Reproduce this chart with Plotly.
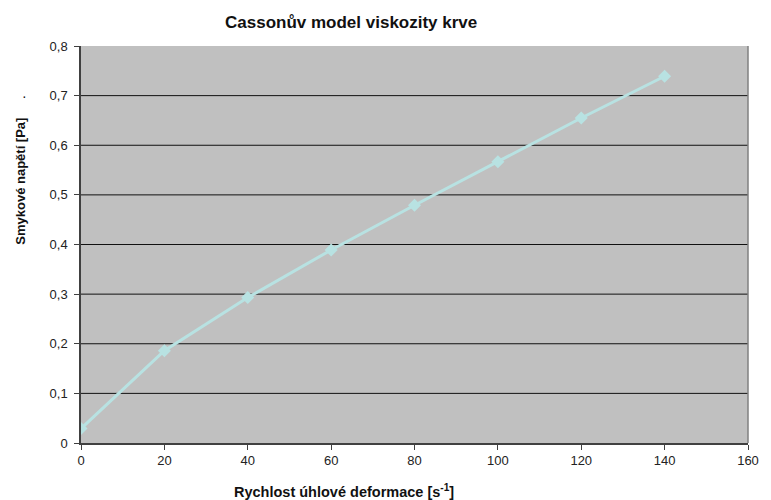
import plotly.graph_objects as go

shear_rate = [0, 20, 40, 60, 80, 100, 120, 140]
shear_stress = [0.029, 0.186, 0.293, 0.389, 0.479, 0.567, 0.655, 0.739]
y_ticks = [0, 0.1, 0.2, 0.3, 0.4, 0.5, 0.6, 0.7, 0.8]
x_ticks = [0, 20, 40, 60, 80, 100, 120, 140, 160]

title_text = "Cassonův model viskozity krve"
x_title = "Rychlost úhlové deformace [s<sup>-1</sup>]"
y_title = "Smykové napětí [Pa]"

FONT = "Liberation Sans, Arial, sans-serif"

fig = go.Figure()
fig.add_trace(go.Scatter(
    x=shear_rate, y=shear_stress, mode="lines+markers",
    line=dict(color="#B8E2E2", width=3),
    marker=dict(symbol="diamond", size=10, color="#B8E2E2"),
    showlegend=False, hoverinfo="skip",
))

shapes = []
for v in y_ticks[1:-1]:
    shapes.append(dict(type="line", xref="paper", yref="y", x0=0, x1=1, y0=v, y1=v,
                       line=dict(color="#111111", width=1), layer="below"))
shapes.append(dict(type="line", xref="paper", yref="paper", x0=1, x1=1, y0=0, y1=1,
                   line=dict(color="#808080", width=1.5), layer="above"))

fig.update_layout(
    width=771, height=500,
    margin=dict(l=81, r=15, t=46, b=57),
    paper_bgcolor="white", plot_bgcolor="#C0C0C0",
    separators=", ",
    font=dict(family=FONT, size=12, color="#111111"),
    shapes=shapes,
    annotations=[
        dict(text="<b>" + title_text + "</b>", xref="paper", yref="paper",
             x=(354 - 81) / 675, y=1 + 24 / 397, xanchor="center", yanchor="middle",
             showarrow=False, font=dict(size=17, family=FONT)),
        dict(text="<b>" + x_title + "</b>", xref="paper", yref="paper",
             x=(347 - 81) / 675, y=-(491 - 443) / 397, xanchor="center", yanchor="middle",
             showarrow=False, font=dict(size=14.5, family=FONT)),
        dict(text="<b>" + y_title + "</b>", xref="paper", yref="paper",
             x=-(81 - 19) / 675, y=(443 - 181) / 397, xanchor="center", yanchor="middle",
             textangle=-90, showarrow=False, font=dict(size=13, family=FONT)),
        dict(text="·", xref="paper", yref="paper",
             x=-(81 - 24) / 675, y=(443 - 96) / 397, xanchor="center", yanchor="middle",
             showarrow=False, font=dict(size=14, family=FONT)),
    ],
)
fig.update_xaxes(
    range=[0, 160], tickvals=x_ticks, showgrid=False, zeroline=False,
    showline=True, linecolor="#404040", linewidth=1.5,
    ticks="outside", ticklen=5, tickcolor="#404040",
    tickfont=dict(size=13, family=FONT, color="#222222"),
)
fig.update_yaxes(
    range=[0, 0.8], tickvals=y_ticks, showgrid=False, zeroline=False,
    showline=True, linecolor="#404040", linewidth=1.5,
    ticks="outside", ticklen=5, tickcolor="#404040",
    tickfont=dict(size=13, family=FONT, color="#222222"),
    ticklabelstandoff=4,
)

fig.write_html("out.html")
